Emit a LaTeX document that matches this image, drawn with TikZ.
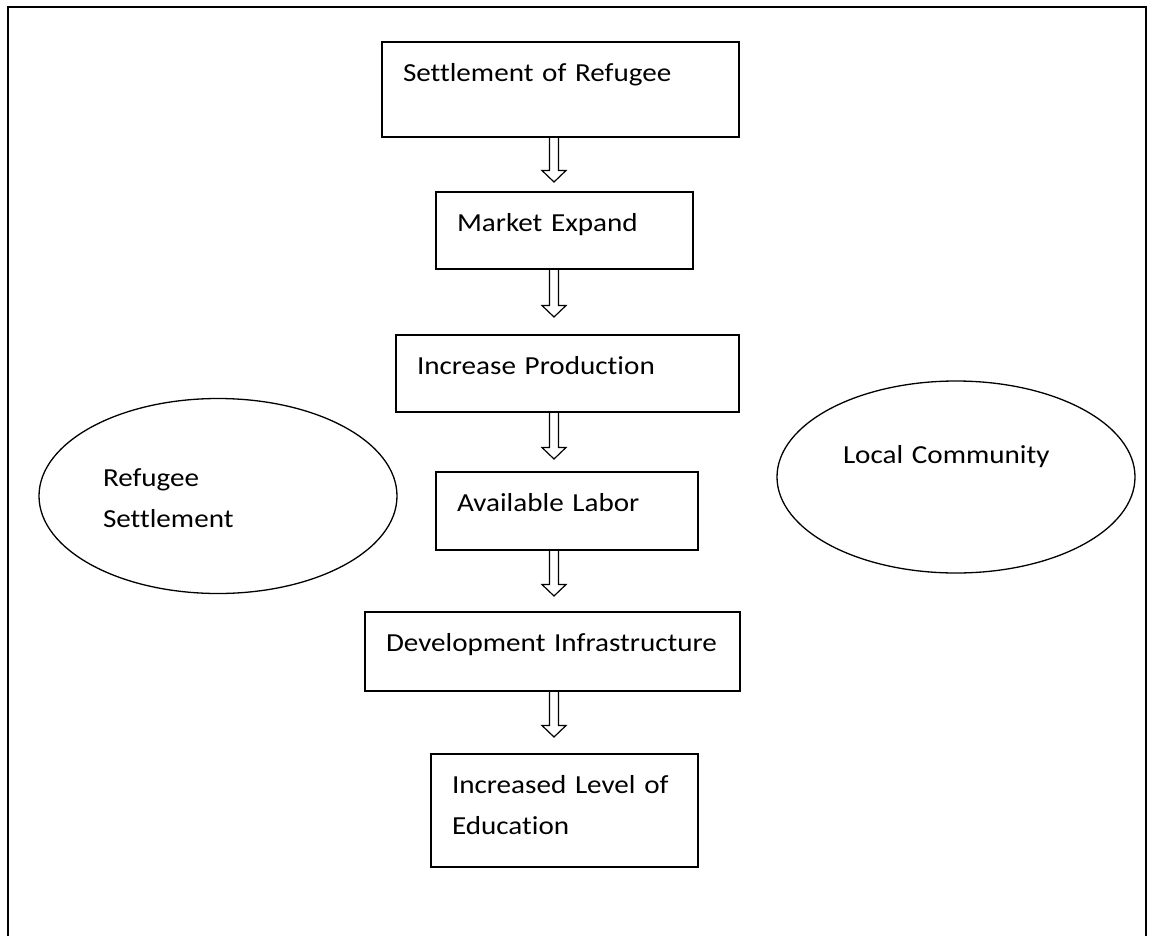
\documentclass[tikz,border=0pt]{standalone}
\usepackage{fontspec}
\setmainfont{Carlito}[Ligatures=NoCommon, FakeStretch=1.12, WordSpace=0.75]
\usetikzlibrary{calc,shapes.geometric}

\begin{document}
\begin{tikzpicture}[x=1pt,y=-1pt,
    every node/.style={font=\fontsize{26}{41}\selectfont, outer sep=0pt},
    flowbox/.style={draw, line width=1.6pt, anchor=north west, inner xsep=21pt, inner ysep=0pt, text height=39pt},
    group/.style={draw, ellipse, line width=1.3pt, inner sep=0pt},
    hollowarrow/.style={draw, line width=1.2pt, line join=miter,
        to path={let \p1=(\tikztostart), \p2=(\tikztotarget) in
            ({\x1-4.5pt},\y1) -- ({\x1-4.5pt},{\y2+11.5pt}) -- ({\x1-12pt},{\y2+11.5pt}) -- (\x2,\y2)
            -- ({\x1+12pt},{\y2+11.5pt}) -- ({\x1+4.5pt},{\y2+11.5pt}) -- ({\x1+4.5pt},\y1)}}]
    \useasboundingbox (0,0) rectangle (1152,935);

    % Frame
    \draw[line width=1.6pt] (8,940) -- (8,7) -- (1146,7) -- (1146,940);

    % Chain of boxes
    \node[flowbox, text width=315pt, text depth=56pt] (settle) at (382,42) {Settlement of Refugee};
    \node[flowbox, text width=215pt, text depth=38pt] (market) at (436,192) {Market Expand};
    \node[flowbox, text width=301pt, text depth=38pt] (prod) at (396,335) {Increase Production};
    \node[flowbox, text width=220pt, text depth=39pt] (labor) at (436,472) {Available Labor};
    \node[flowbox, text width=333pt, text depth=40pt] (infra) at (365,612) {Development Infrastructure};
    \node[flowbox, text width=225pt, text depth=74pt] (edu) at (431,754) {Increased Level of\\Education};

    % Two sides
    \node[group, minimum width=358pt, minimum height=195pt, text width=230pt, text height=30pt, text depth=50pt] (refugee) at (218,496) {Refugee\\Settlement};
    \node[group, minimum width=358pt, minimum height=192pt, text width=226pt, text height=20pt, text depth=48pt] (local) at (956,477) {Local Community};

    % Arrows down the chain
    \coordinate (spine) at (554,0);
    \foreach \from/\to/\gap in {settle/market/10, market/prod/18, prod/labor/13, labor/infra/16, infra/edu/17}
        \draw[hollowarrow] (\from.south -| spine) to ($(\to.north -| spine)+(0,-\gap)$);
\end{tikzpicture}
\end{document}
